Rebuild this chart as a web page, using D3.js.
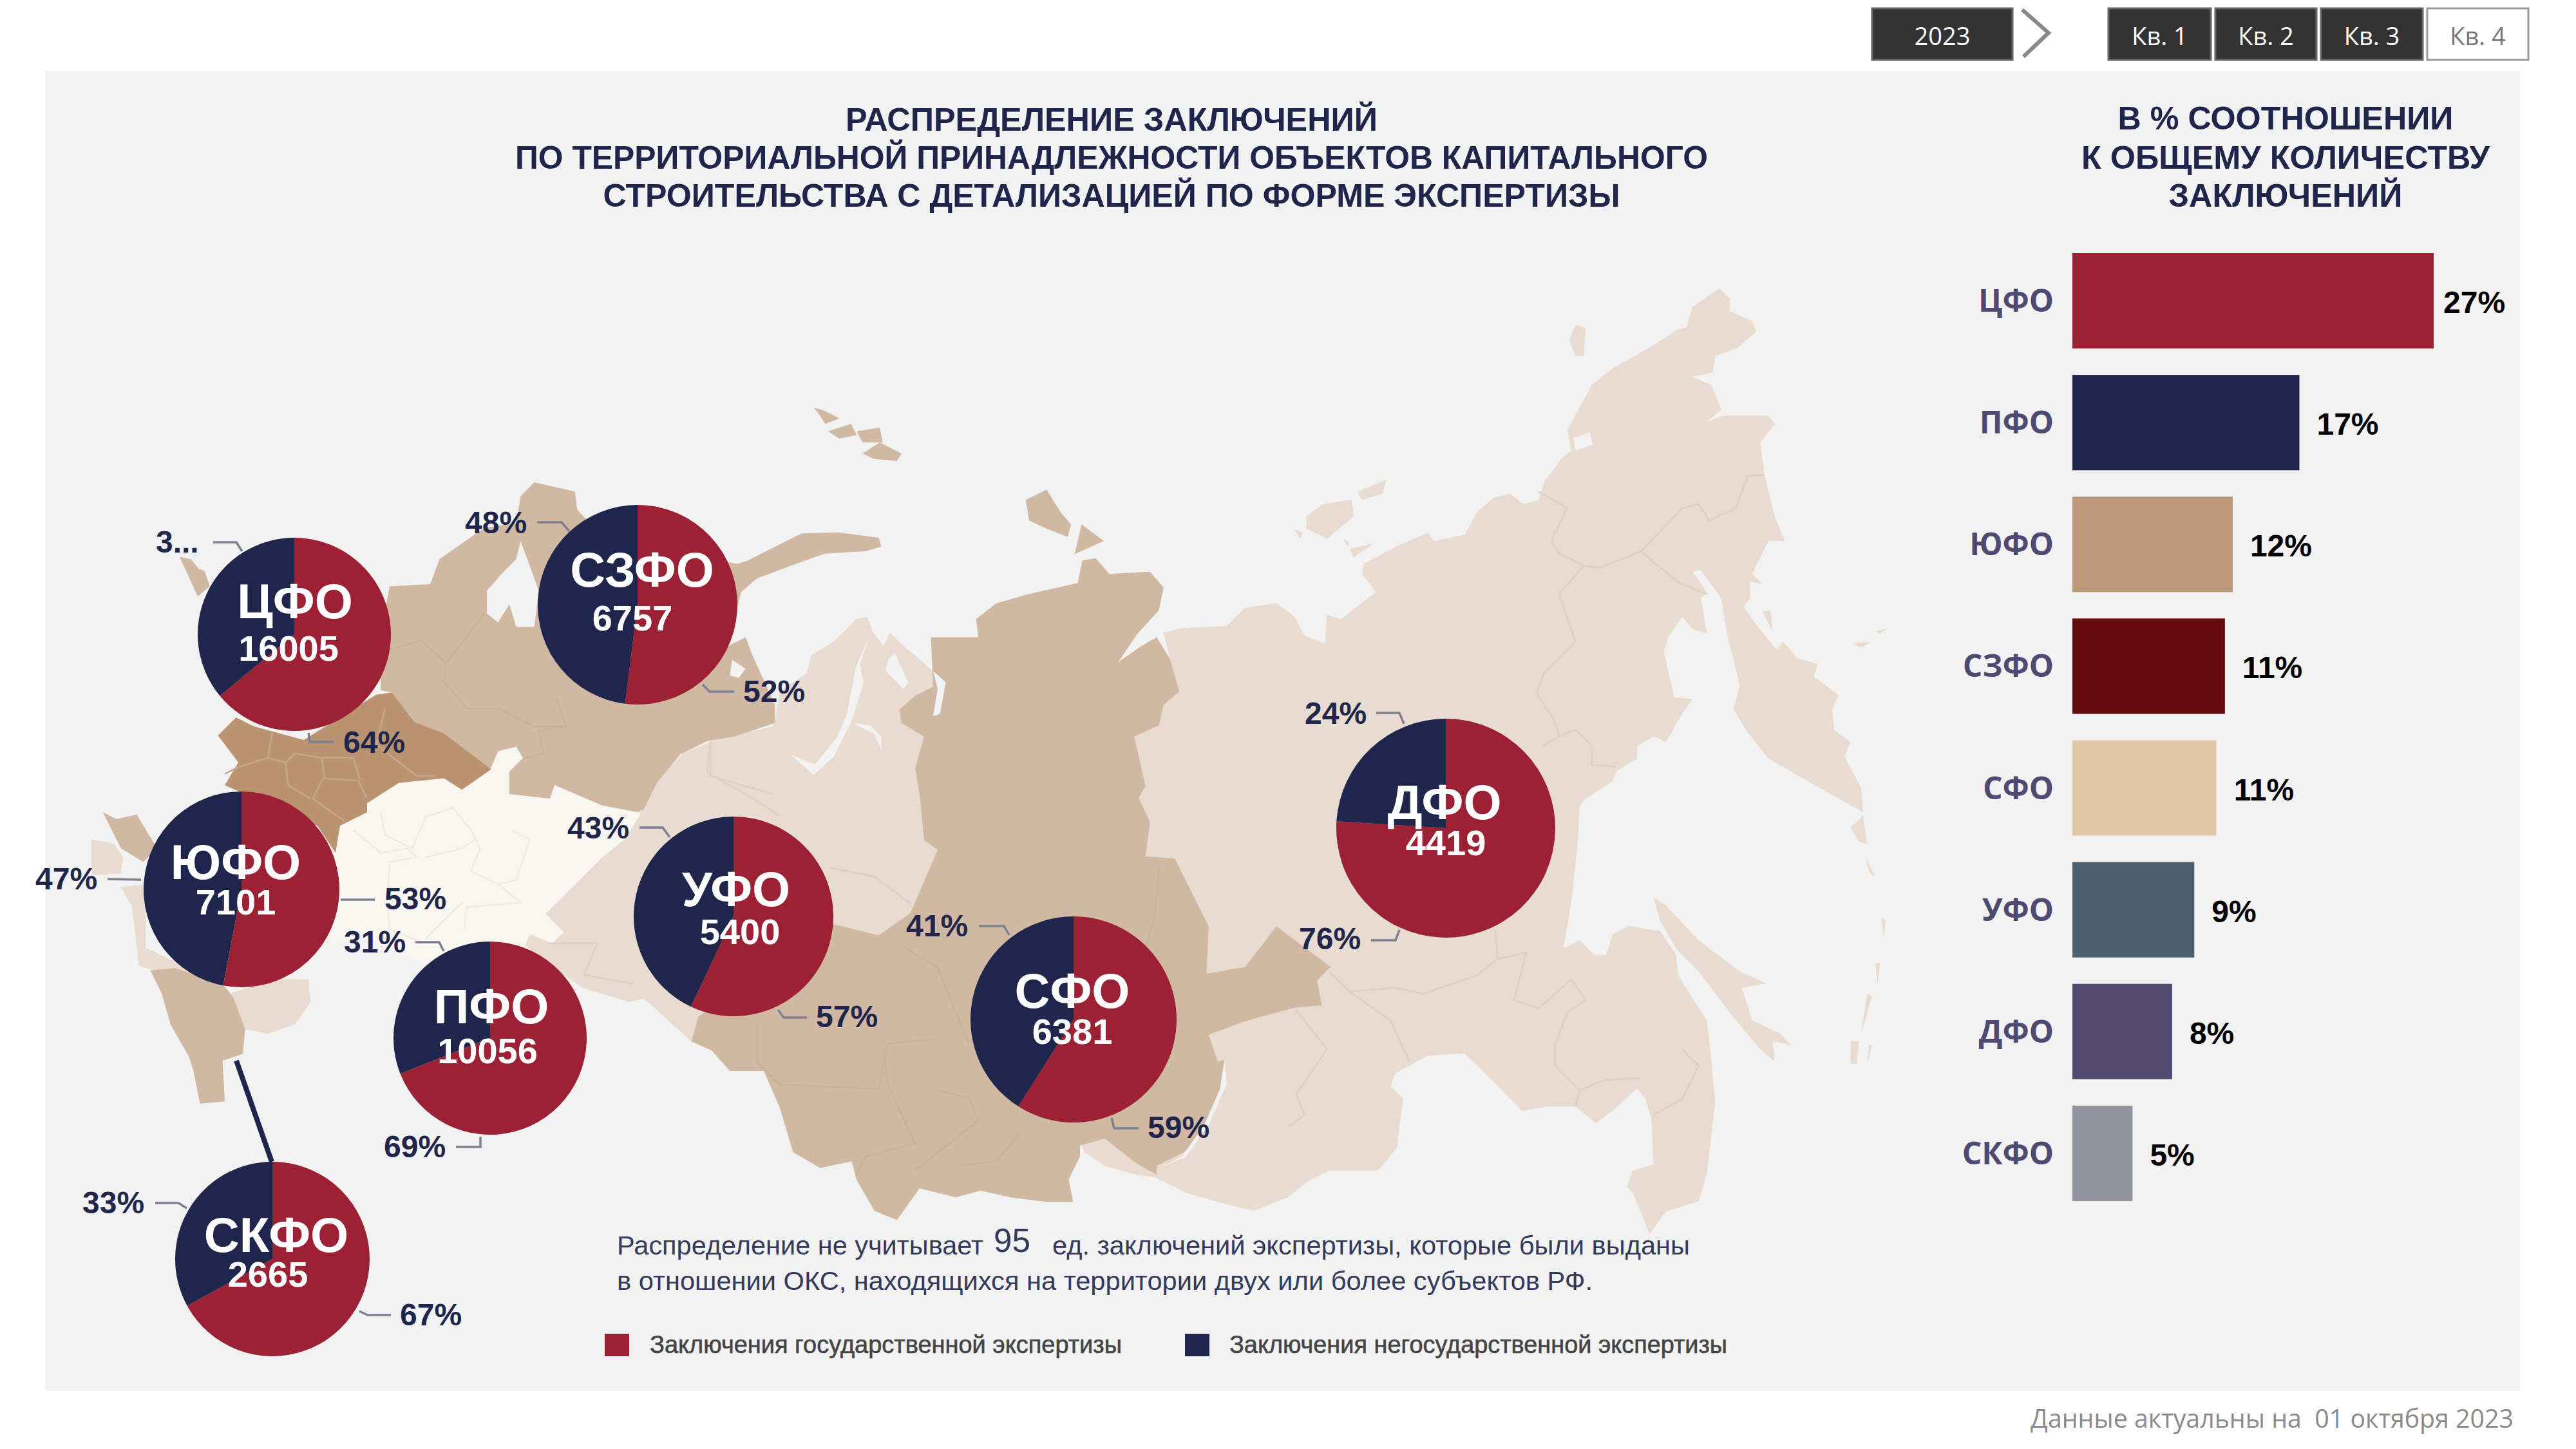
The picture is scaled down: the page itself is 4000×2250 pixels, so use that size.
<!DOCTYPE html>
<html lang="ru"><head><meta charset="utf-8">
<script src="https://cdn.jsdelivr.net/npm/d3@7/dist/d3.min.js"></script>
<style>html,body{margin:0;padding:0;background:#fff}svg{display:block}</style></head>
<body><svg id="c" width="4000" height="2250" viewBox="0 0 4000 2250"></svg>
<script>
// ---------- DATA ----------
const districts   = ["ЦФО","ПФО","ЮФО","СЗФО","СФО","УФО","ДФО","СКФО"];
const conclusions = [16005,10056,7101,6757,6381,5400,4419,2665];
const sharePct    = ["27%","17%","12%","11%","11%","9%","8%","5%"];
const statePct    = [64,69,53,52,59,57,76,67];
const nonStatePct = [36,31,47,48,41,43,24,33];
const nonStateText= ["3...","31%","47%","48%","41%","43%","24%","33%"];
const stateText   = ["64%","69%","53%","52%","59%","57%","76%","67%"];
const excluded    = "95";
const years       = ["2023"];
const quarters    = ["Кв. 1","Кв. 2","Кв. 3","Кв. 4"];
const legendItems = ["Заключения государственной экспертизы","Заключения негосударственной экспертизы"];

// ---------- STYLE / LAYOUT ----------
const NAVY="#20264b",RED="#9c2135",PANEL="#f2f2f2";
const barColors=["#9c2135","#20264b","#bb9977","#650a0f","#e0c8a8","#4d6070","#534a6f","#9295a0"];
const AR="'Liberation Sans',Arial,sans-serif",OS="'Open Sans',sans-serif";
const pieLayout={ // cx, cy, r, label x/baseline, number x/baseline
 "ЦФО":[457,985,150,458,960,448,1026],"ПФО":[761,1612,150,763,1589,757,1651],
 "ЮФО":[375,1381,152,366,1365,366,1420],"СЗФО":[990,939,155,997,911,982,979],
 "СФО":[1667,1583,160,1665,1565,1665,1621],"УФО":[1139,1423,155,1143,1407,1149,1466],
 "ДФО":[2245,1286,170,2243,1272,2245,1328],"СКФО":[423,1955,151,429,1944,416,1998]};
const pctLayout={ // navy text x,baseline,leader ; red text x,baseline,leader
 "ЦФО":[[242,858,[[331,842],[367,842],[376,856]]],[533,1169,[[479,1138],[481,1152],[519,1152]]]],
 "ПФО":[[534,1479,[[645,1463],[682,1463],[689,1477]]],[596,1797,[[708,1781],[746,1781],[746,1765]]]],
 "ЮФО":[[55,1381,[[167,1365],[219,1366]]],[597,1412,[[529,1397],[582,1397]]]],
 "СЗФО":[[722,828,[[834,811],[872,811],[884,825]]],[1154,1090,[[1091,1063],[1102,1074],[1140,1074]]]],
 "СФО":[[1407,1454,[[1520,1438],[1559,1438],[1567,1452]]],[1782,1767,[[1726,1736],[1730,1752],[1768,1752]]]],
 "УФО":[[881,1302,[[993,1285],[1029,1285],[1040,1300]]],[1267,1595,[[1208,1568],[1217,1580],[1253,1580]]]],
 "ДФО":[[2026,1124,[[2137,1107],[2173,1107],[2180,1124]]],[2017,1474,[[2129,1460],[2167,1460],[2173,1444]]]],
 "СКФО":[[128,1884,[[241,1868],[277,1868],[290,1876]]],[621,2058,[[558,2036],[571,2042],[607,2042]]]]};

// ---------- MAP OUTLINES (hand-traced) ----------
const crops={A:[100,700,1100,1100],B:[1000,800,1100,1100],C:[2000,400,1000,1000],D:[2000,1100,1000,1000],
             Z:[0,400,1400,900],Y:[1300,400,1700,1000]};
const cropScales=Object.fromEntries(Object.entries(crops).map(([k,c])=>[k,{
  x:d3.scaleLinear().domain([0,1568]).range([c[0],c[0]+c[2]]),
  y:d3.scaleLinear().domain([0,1568]).range([c[1],c[1]+c[3]])}]));
const LIGHT="#e8dbcf",MID="#d1b8a3",DARK="#ba9470",WHITE="#f9f6f2";
const bDark="#c8a78a",bWhite="#efeae3",bMid="#c9b19c",bLight="#ded0c4";
const shapes=[
 {f:LIGHT,s:[["B",[[1000,700],[1085,490],[1140,465],[1150,420],[1185,390],[1165,320],[1150,260],[1190,250],[1290,245],[1330,205],[1400,195],[1440,225]]],
  ["C",[[40,920],[90,940],[95,870],[130,880],[180,840],[215,815],[180,770],[185,745],[270,700],[340,670],[355,690],[430,675],[460,620],[500,585],[540,575],[575,600],[610,590],[625,545],[665,490],[690,470],[680,420],[740,310],[790,270],[870,225],[950,175],[970,170],[985,120],[1050,75],[1075,100],[1075,130],[1130,155],[1140,180],[1095,220],[1040,240],[1035,280],[985,290],[1030,310],[1055,370],[1020,400],[1060,385],[1170,385],[1185,405],[1150,450],[1160,530],[1185,630],[1210,690],[1170,690],[1130,770],[1155,795],[1125,790],[1125,830],[1110,850],[1145,900],[1190,955],[1205,935],[1240,975],[1290,990],[1280,1020],[1340,1065],[1325,1100],[1330,1150],[1370,1180],[1355,1215],[1395,1290],[1400,1350],[1310,1300],[1170,1220],[1115,1150],[1085,1100],[1100,1040],[1070,920],[1055,830],[1005,760],[985,765],[1020,815],[1005,830],[1020,915],[985,905],[960,875],[925,925],[915,960],[940,1070],[985,1075],[960,1110],[920,1180],[890,1165],[850,1190],[850,1220],[800,1250],[790,1275],[720,1320]]],
  ["D",[[710,240],[705,330],[690,470],[680,530],[670,585],[710,565],[745,600],[775,600],[790,550],[830,530],[890,540],[905,540],[945,600],[950,650],[1020,760],[1030,850],[1040,960],[1020,1130],[1000,1200],[920,1225],[880,1280],[840,1180],[825,1165],[840,1125],[890,1110],[885,1000],[870,950],[850,925],[790,980],[750,1010],[700,970],[630,970],[570,980],[500,910],[430,840],[340,845],[260,890],[250,920],[280,950],[265,1070],[220,1125],[100,1125],[50,1150],[0,1190]]],
  ["B",[[1350,1540],[1270,1520],[1200,1500],[1130,1465],[1090,1460],[1020,1440],[975,1410],[965,1385]]]]},
 {f:LIGHT,s:[["A",[[1270,810],[1320,720],[1370,670],[1440,640],[1568,610]]],
  ["B",[[290,460],[300,390],[360,350],[370,310],[420,280],[470,230],[495,225],[505,255],[530,290],[545,260],[575,290],[600,310],[645,350],[665,370],[640,440],[620,490],[600,560],[610,620],[620,720],[650,740],[590,880],[520,930],[420,905],[300,1000],[120,1110],[105,1165],[0,1070]]],
  ["A",[[1250,1220],[1150,1190],[1090,1150],[1020,1095],[1030,1070],[1080,1090],[1105,1065],[1065,1025],[1120,970],[1190,900],[1240,860]]]]},
 {f:MID,s:[["B",[[635,270],[740,270],[735,230],[780,195],[850,175],[960,150],[970,100],[1000,95],[1030,130],[1120,125],[1150,160],[1140,210],[1090,265],[1050,325],[1100,290],[1135,270],[1165,320],[1185,390],[1150,420],[1140,465],[1085,490],[1110,600],[1095,625],[1120,680],[1110,755],[1175,760],[1210,830],[1250,910],[1245,1015],[1330,1000],[1400,910],[1520,1000],[1490,1030],[1500,1085],[1440,1090],[1330,1120],[1250,1150],[1270,1210],[1285,1205],[1270,1300],[1240,1370],[1195,1410],[1135,1440],[1135,1460],[1090,1435],[1020,1380],[965,1395],[965,1420],[940,1470],[950,1520],[890,1520],[810,1510],[745,1495],[690,1510],[610,1490],[560,1560],[510,1540],[470,1470],[460,1430],[390,1445],[330,1410],[300,1310],[265,1230],[190,1230],[150,1185],[105,1165],[120,1110],[420,905],[520,930],[590,880],[650,740],[620,720],[610,620],[600,560],[620,490],[570,460],[565,430],[600,400],[640,380]]]]},
 {f:MID,s:[["A",[[720,300],[810,295],[830,240],[880,205],[930,170],[1000,160],[1010,100],[1040,70],[1130,90],[1135,130],[1200,200],[1490,250]]],
  ["B",[[230,100],[290,70],[350,40],[430,38],[520,50],[525,70],[490,80],[400,85],[330,110],[250,140],[215,170],[205,210],[185,290],[225,270],[240,310],[290,420],[290,460],[200,490],[140,500],[80,530],[30,590],[0,650]]],
  ["A",[[1270,800],[1190,785],[1085,740],[1075,770],[985,760],[985,710],[945,705],[840,625],[775,600],[725,535],[700,530],[700,400]]]]},
 {f:MID,s:[["A",[[255,235],[280,240],[298,262],[310,265],[322,300],[295,322]]]]},
 {f:WHITE,s:[["A",[[670,780],[740,735],[840,725],[880,750],[945,700],[960,665],[1000,655],[1015,680],[985,710],[985,760],[1075,770],[1085,740],[1190,785],[1275,805],[1240,860],[1190,900],[1120,970],[1065,1025],[1105,1065],[1080,1090],[1030,1070],[1020,1095],[950,1130],[800,1135],[730,1110],[680,1080],[590,1090],[590,1000],[600,890],[610,830],[670,800]]]]},
 {f:DARK,s:[["A",[[380,590],[420,610],[530,640],[690,540],[725,535],[775,600],[840,625],[945,705],[880,750],[840,725],[740,735],[670,780],[670,800],[610,830],[600,890],[560,830],[400,760],[355,740],[385,690],[340,630]]]]},
 {f:MID,s:[["A",[[85,800],[115,815],[160,805],[205,880],[175,910],[125,880]]]]},
 {f:LIGHT,s:[["A",[[60,860],[110,870],[130,900],[125,935],[60,940]]]]},
 {f:LIGHT,s:[["A",[[125,965],[180,960],[180,1100],[350,1180],[245,1165],[165,1140],[150,1010]]]]},
 {f:MID,s:[["A",[[190,1150],[245,1145],[350,1180],[375,1210],[400,1280],[395,1335],[350,1350],[355,1440],[300,1445],[285,1370],[275,1340],[235,1270],[215,1200]]]]},
 {f:LIGHT,s:[["A",[[370,1200],[470,1170],[540,1170],[545,1220],[510,1270],[450,1290],[400,1280]]]]},
 // islands
 {f:MID,s:[["Y",[[270,590],[300,565],[320,620],[335,650],[330,680],[300,660],[275,640]]]]},
 {f:MID,s:[["Y",[[350,650],[382,690],[340,722]]]]},
 {f:MID,s:[["Z",[[1415,405],[1435,415],[1460,435],[1435,450],[1425,425]]]]},
 {f:MID,s:[["Z",[[1440,470],[1480,450],[1490,480],[1460,490]]]]},
 {f:MID,s:[["Z",[[1490,470],[1530,460],[1535,500],[1500,500]]]]},
 {f:MID,s:[["Z",[[1500,530],[1530,500],[1568,530],[1560,550],[1520,545]]]]},
 {f:LIGHT,s:[["C",[[45,630],[85,600],[155,590],[160,630],[95,685],[45,660]]]]},
 {f:LIGHT,s:[["C",[[170,570],[240,540],[230,575],[180,590]]]]},
 {f:LIGHT,s:[["C",[[150,710],[210,695],[160,730]]]]},
 {f:LIGHT,s:[["C",[[135,685],[150,695],[145,705]]]]},
 {f:LIGHT,s:[["C",[[15,660],[35,670],[30,685]]]]},
 {f:LIGHT,s:[["C",[[685,200],[700,165],[725,170],[720,240],[700,240]]]]},
 {f:LIGHT,s:[["C",[[1155,860],[1175,860],[1180,910]]]]},
 {f:LIGHT,s:[["C",[[1375,940],[1420,935],[1395,950]]]]},
 {f:LIGHT,s:[["C",[[1430,910],[1460,903],[1440,916]]]]},
 {f:LIGHT,s:[["D",[[890,460],[920,480],[1000,565],[1100,640],[1165,670],[1105,680],[1130,760],[1195,790],[1225,820],[1180,810],[1185,860],[1150,830],[1075,740],[1000,640],[945,585],[905,515]]]]},
 {f:LIGHT,s:[["D",[[1370,290],[1400,260],[1410,330],[1390,325]]]]},
 {f:LIGHT,s:[["D",[[1405,360],[1430,410],[1415,400]]]]},
 {f:LIGHT,s:[["D",[[1445,510],[1455,515],[1450,560]]]]},
 {f:LIGHT,s:[["D",[[1430,620],[1442,620],[1435,675]]]]},
 {f:LIGHT,s:[["D",[[1410,695],[1422,700],[1395,795]]]]},
 {f:LIGHT,s:[["D",[[1370,810],[1390,810],[1385,865],[1370,865]]]]},
 {f:LIGHT,s:[["D",[[1415,820],[1422,820],[1410,865]]]]},
 // seas, gulfs and lakes
 {f:PANEL,s:[["A",[[1010,200],[1050,310],[1040,390],[1000,390],[985,340],[960,380],[935,360],[935,310],[970,270],[1000,240]]]]},
 {f:PANEL,s:[["B",[[195,320],[225,340],[210,360],[190,355]]]]},
 {f:PANEL,s:[["B",[[500,265],[478,330],[486,370],[462,450],[420,535],[375,575],[325,530],[378,552],[425,495],[448,445],[468,340]]]]},
 {f:PANEL,s:[["B",[[462,460],[500,465],[525,490],[525,520],[510,485]]]]},
 {f:PANEL,s:[["B",[[540,320],[555,305],[585,370],[575,385],[535,345]]]]},
 {f:PANEL,s:[["B",[[640,345],[668,370],[655,440],[640,445],[650,385]]]]},
 {f:PANEL,s:[["B",[[1285,1205],[1290,1260],[1250,1350],[1200,1420],[1140,1445],[1190,1420],[1240,1350],[1275,1270]]]]},
 {f:PANEL,s:[["C",[[695,440],[735,425],[742,455],[700,470]]]]}
];
const borders=[
 {c:bDark,p:["A",[[460,625],[450,680],[385,700],[355,715]]]},
 {c:bDark,p:["A",[[450,680],[490,690],[495,740],[545,770]]]},
 {c:bDark,p:["A",[[490,690],[510,670],[570,680],[640,680]]]},
 {c:bDark,p:["A",[[570,680],[575,720],[550,770],[620,820]]]},
 {c:bDark,p:["A",[[575,725],[650,730],[670,770]]]},
 {c:bDark,p:["A",[[640,680],[655,730]]]},
 {c:bDark,p:["A",[[710,570],[690,650],[780,720],[820,720]]]},
 {c:bWhite,p:["A",[[640,840],[700,890],[760,880],[780,900],[720,910],[715,1000],[720,1060],[800,1090]]]},
 {c:bWhite,p:["A",[[700,800],[710,850],[770,880],[800,810],[860,790],[900,840],[920,880],[900,930],[960,960]]]},
 {c:bWhite,p:["A",[[800,900],[880,880],[910,860]]]},
 {c:bWhite,p:["A",[[990,840],[1030,860],[1000,950],[960,960],[1010,1000],[890,1010],[885,1060]]]},
 {c:bWhite,p:["A",[[880,1000],[800,1080]]]},
 {c:bMid,p:["A",[[720,440],[790,420],[845,470],[840,510],[890,570],[960,570],[1040,610],[1110,610],[1050,620],[1060,670],[1020,680]]]},
 {c:bMid,p:["A",[[845,470],[930,360]]]},
 {c:bMid,p:["A",[[1090,550],[1110,610]]]},
 {c:bLight,p:["C",[[610,570],[680,610],[640,690],[660,720],[720,750],[760,755],[860,715],[960,610],[1000,600],[1025,640],[1090,610],[1120,530],[1160,530]]]},
 {c:bLight,p:["C",[[860,715],[900,750],[950,790],[1020,820]]]},
 {c:bLight,p:["C",[[720,750],[660,820],[700,935],[625,1010],[605,1060],[650,1130],[660,1165],[620,1190]]]},
 {c:bLight,p:["C",[[660,1165],[700,1150],[740,1190],[740,1235],[800,1240]]]},
 {c:bLight,p:["D",[[505,540],[510,610],[580,595],[550,710],[610,730],[690,660],[725,710],[680,740],[650,820],[650,870],[710,930],[700,970]]]},
 {c:bLight,p:["D",[[710,930],[770,905],[860,900]]]},
 {c:bLight,p:["D",[[150,690],[260,680],[330,695],[460,650],[510,610]]]},
 {c:bLight,p:["D",[[100,640],[150,690],[250,760],[295,860]]]},
 {c:bLight,p:["D",[[20,735],[95,830],[20,940],[40,990],[0,1020]]]},
 {c:bLight,p:["D",[[890,990],[960,950],[1000,870],[960,830]]]},
 {c:bLight,p:["B",[[145,510],[140,570],[230,620],[300,665]]]},
 {c:bLight,p:["B",[[410,780],[510,800],[590,860]]]},
 {c:bLight,p:["A",[[1430,640],[1430,720],[1568,760]]]},
 {c:bLight,p:["A",[[1070,1090],[1180,1090],[1150,1160],[1260,1180]]]},
 {c:bMid,p:["B",[[1140,780],[1130,890],[1110,960]]]},
 {c:bMid,p:["B",[[580,960],[650,1000],[690,1100],[720,1170]]]},
 {c:bMid,p:["B",[[250,1130],[250,1210],[300,1260],[520,1270],[540,1170],[640,1160]]]},
 {c:bMid,p:["B",[[530,1180],[540,1260],[600,1390],[490,1420],[470,1460]]]},
 {c:bMid,p:["B",[[640,1270],[720,1290],[740,1340],[600,1450]]]},
 {c:bMid,p:["B",[[830,1370],[780,1430],[700,1440]]]}
];

// ---------- DRAW ----------
const svg=d3.select("#c");
svg.append("rect").attr("width",4000).attr("height",2250).attr("fill","#fff");
svg.append("rect").attr("x",70).attr("y",110).attr("width",3843).attr("height",2050).attr("fill",PANEL);

const toAbs=(k,pts)=>pts.map(([x,y])=>[cropScales[k].x(x),cropScales[k].y(y)]);
const line=d3.line();
const map=svg.append("g");
map.selectAll("path.r").data(shapes).join("path").attr("class","r")
  .attr("d",d=>line(d.s.flatMap(([k,p])=>toAbs(k,p)))+"Z").attr("fill",d=>d.f);
map.selectAll("path.b").data(borders).join("path").attr("class","b")
  .attr("d",d=>line(toAbs(d.p[0],d.p[1]))).attr("fill","none").attr("stroke",d=>d.c).attr("stroke-width",2.5);

function text(g,t,x,y,o={}){
  const e=g.append("text").attr("x",x).attr("y",y).text(t)
    .attr("font-family",o.ff||AR).attr("font-size",o.fs||40).attr("font-weight",o.w||"normal")
    .attr("fill",o.c||NAVY).attr("text-anchor",o.a||"start");
  if(o.len) e.attr("textLength",o.len).attr("lengthAdjust","spacingAndGlyphs");
  return e;
}

// connector to СКФО
svg.append("line").attr("x1",367).attr("y1",1647).attr("x2",422).attr("y2",1804).attr("stroke",NAVY).attr("stroke-width",8);

// pies
const pie=d3.pie().sort(null);
const pies=svg.append("g");
districts.forEach((name,i)=>{
  const [cx,cy,r,lx,ly,nx,ny]=pieLayout[name];
  const g=pies.append("g");
  const arc=d3.arc().innerRadius(0).outerRadius(r);
  g.append("g").attr("transform",`translate(${cx},${cy})`).selectAll("path")
    .data(pie([statePct[i],nonStatePct[i]])).join("path").attr("d",arc).attr("fill",(d,j)=>j?NAVY:RED);
  text(g,name,lx,ly,{fs:76,w:"bold",c:"#fff",a:"middle"});
  text(g,conclusions[i],nx,ny,{fs:56,w:"bold",c:"#fff",a:"middle"});
  const [nv,rd]=pctLayout[name];
  [[nv,nonStateText[i]],[rd,stateText[i]]].forEach(([p,t])=>{
    text(g,t,p[0],p[1],{fs:48,w:"bold"});
    g.append("path").attr("d",line(p[2])).attr("fill","none").attr("stroke","#7d8091").attr("stroke-width",3.5);
  });
});

// titles
const t1=[["РАСПРЕДЕЛЕНИЕ ЗАКЛЮЧЕНИЙ",203,826],["ПО ТЕРРИТОРИАЛЬНОЙ ПРИНАДЛЕЖНОСТИ ОБЪЕКТОВ КАПИТАЛЬНОГО",262,1852],["СТРОИТЕЛЬСТВА С ДЕТАЛИЗАЦИЕЙ ПО ФОРМЕ ЭКСПЕРТИЗЫ",321,1579]];
t1.forEach(([t,y,len])=>text(svg,t,1726,y,{fs:50,w:"bold",a:"middle",len}));
const t2=[["В % СООТНОШЕНИИ",201,521],["К ОБЩЕМУ КОЛИЧЕСТВУ",262,634],["ЗАКЛЮЧЕНИЙ",321,363]];
t2.forEach(([t,y,len])=>text(svg,t,3549,y,{fs:50,w:"bold",a:"middle",len}));

// bars
const y=d3.scaleBand().domain(districts).range([393,1865]).paddingInner(41/189.3).paddingOuter(0);
const x=d3.scaleLinear().domain([0,d3.max(conclusions)]).range([3218,3779]);
const bars=svg.append("g");
bars.selectAll("rect").data(districts).join("rect")
  .attr("x",x(0)).attr("y",d=>y(d)).attr("height",y.bandwidth()).attr("width",(d,i)=>x(conclusions[i])-x(0))
  .attr("fill",(d,i)=>barColors[i]);
districts.forEach((d,i)=>{
  const base=y(d)+y.bandwidth()/2;
  text(bars,d,3189,base+17,{ff:OS,fs:48,w:"bold",c:"#4f4a72",a:"end"});
  text(bars,sharePct[i],Math.min(x(conclusions[i])+27,3794),base+19,{fs:48,w:"bold",c:"#000"});
});

// note
text(svg,"Распределение не учитывает",958,1948,{fs:41,c:"#333a5c",len:569});
text(svg,excluded,1543,1944,{fs:51,c:"#333a5c",len:57});
text(svg,"ед. заключений экспертизы, которые были выданы",1634,1948,{fs:41,c:"#333a5c",len:990});
text(svg,"в отношении ОКС, находящихся на территории двух или более субъектов РФ.",958,2003,{fs:41,c:"#333a5c",len:1515});

// legend
[[939,1009,733,RED],[1840,1909,773,NAVY]].forEach(([sx,tx,len,c],i)=>{
  svg.append("rect").attr("x",sx).attr("y",2071).attr("width",38).attr("height",35).attr("fill",c);
  text(svg,legendItems[i],tx,2101,{fs:38,c:"#444",len}).attr("stroke","#444").attr("stroke-width",0.6);
});

// top controls
const ctl=svg.append("g");
function button(x0,x1,label,on){
  ctl.append("rect").attr("x",x0).attr("y",13).attr("width",x1-x0).attr("height",80)
    .attr("fill",on?"#333":"#fff").attr("stroke",on?"#666":"#999").attr("stroke-width",3);
  text(ctl,label,(x0+x1)/2,70,{ff:OS,fs:38,c:on?"#fff":"#777",a:"middle"});
}
button(2907,3125,years[0],true);
ctl.append("path").attr("d",line([[3140,15],[3181,51],[3142,88]])).attr("fill","none").attr("stroke","#888").attr("stroke-width",6);
[[3274,3433],[3440,3597],[3604,3762],[3769,3926]].forEach(([a,b],i)=>button(a,b,quarters[i],i<3));

// footer
text(svg,"Данные актуальны на  01 октября 2023",3153,2217,{ff:OS,fs:40,c:"#8a8a8a",len:750}).attr("xml:space","preserve");
</script></body></html>
